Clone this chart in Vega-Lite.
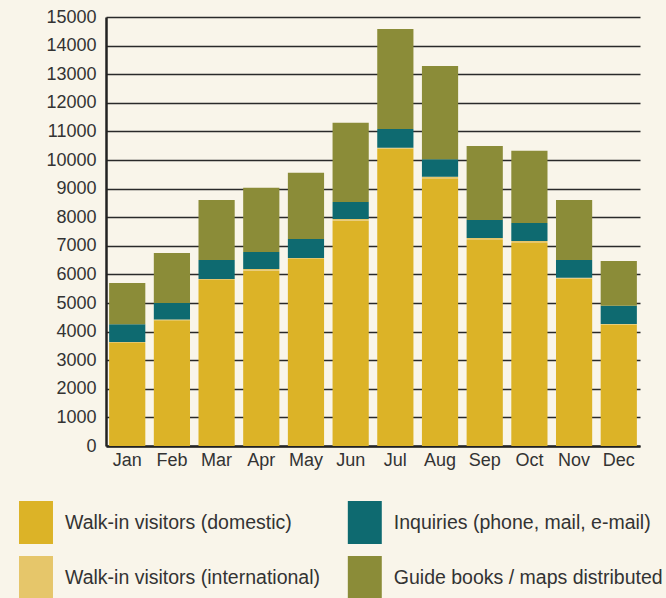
{
  "$schema": "https://vega.github.io/schema/vega-lite/v6.json",
  "width": 534,
  "height": 429,
  "autosize": {"type": "none"},
  "padding": {"left": 106, "top": 17, "right": 26, "bottom": 152},
  "background": "#f9f5ea",
  "config": {
    "view": {"stroke": null},
    "font": "Liberation Sans"
  },
  "data": {
    "values": [
      {"month": "Jan", "series": "Walk-in visitors (domestic)", "layer": 1, "value": 3600},
      {"month": "Jan", "series": "Walk-in visitors (international)", "layer": 2, "value": 40},
      {"month": "Jan", "series": "Inquiries (phone, mail, e-mail)", "layer": 3, "value": 620},
      {"month": "Jan", "series": "Guide books / maps distributed", "layer": 4, "value": 1440},
      {"month": "Feb", "series": "Walk-in visitors (domestic)", "layer": 1, "value": 4400},
      {"month": "Feb", "series": "Walk-in visitors (international)", "layer": 2, "value": 20},
      {"month": "Feb", "series": "Inquiries (phone, mail, e-mail)", "layer": 3, "value": 580},
      {"month": "Feb", "series": "Guide books / maps distributed", "layer": 4, "value": 1750},
      {"month": "Mar", "series": "Walk-in visitors (domestic)", "layer": 1, "value": 5800},
      {"month": "Mar", "series": "Walk-in visitors (international)", "layer": 2, "value": 40},
      {"month": "Mar", "series": "Inquiries (phone, mail, e-mail)", "layer": 3, "value": 660},
      {"month": "Mar", "series": "Guide books / maps distributed", "layer": 4, "value": 2100},
      {"month": "Apr", "series": "Walk-in visitors (domestic)", "layer": 1, "value": 6130},
      {"month": "Apr", "series": "Walk-in visitors (international)", "layer": 2, "value": 60},
      {"month": "Apr", "series": "Inquiries (phone, mail, e-mail)", "layer": 3, "value": 590},
      {"month": "Apr", "series": "Guide books / maps distributed", "layer": 4, "value": 2250},
      {"month": "May", "series": "Walk-in visitors (domestic)", "layer": 1, "value": 6540},
      {"month": "May", "series": "Walk-in visitors (international)", "layer": 2, "value": 30},
      {"month": "May", "series": "Inquiries (phone, mail, e-mail)", "layer": 3, "value": 665},
      {"month": "May", "series": "Guide books / maps distributed", "layer": 4, "value": 2315},
      {"month": "Jun", "series": "Walk-in visitors (domestic)", "layer": 1, "value": 7880},
      {"month": "Jun", "series": "Walk-in visitors (international)", "layer": 2, "value": 60},
      {"month": "Jun", "series": "Inquiries (phone, mail, e-mail)", "layer": 3, "value": 590},
      {"month": "Jun", "series": "Guide books / maps distributed", "layer": 4, "value": 2770},
      {"month": "Jul", "series": "Walk-in visitors (domestic)", "layer": 1, "value": 10400},
      {"month": "Jul", "series": "Walk-in visitors (international)", "layer": 2, "value": 30},
      {"month": "Jul", "series": "Inquiries (phone, mail, e-mail)", "layer": 3, "value": 650},
      {"month": "Jul", "series": "Guide books / maps distributed", "layer": 4, "value": 3500},
      {"month": "Aug", "series": "Walk-in visitors (domestic)", "layer": 1, "value": 9340},
      {"month": "Aug", "series": "Walk-in visitors (international)", "layer": 2, "value": 70},
      {"month": "Aug", "series": "Inquiries (phone, mail, e-mail)", "layer": 3, "value": 620},
      {"month": "Aug", "series": "Guide books / maps distributed", "layer": 4, "value": 3260},
      {"month": "Sep", "series": "Walk-in visitors (domestic)", "layer": 1, "value": 7200},
      {"month": "Sep", "series": "Walk-in visitors (international)", "layer": 2, "value": 70},
      {"month": "Sep", "series": "Inquiries (phone, mail, e-mail)", "layer": 3, "value": 630},
      {"month": "Sep", "series": "Guide books / maps distributed", "layer": 4, "value": 2590},
      {"month": "Oct", "series": "Walk-in visitors (domestic)", "layer": 1, "value": 7100},
      {"month": "Oct", "series": "Walk-in visitors (international)", "layer": 2, "value": 70},
      {"month": "Oct", "series": "Inquiries (phone, mail, e-mail)", "layer": 3, "value": 630},
      {"month": "Oct", "series": "Guide books / maps distributed", "layer": 4, "value": 2520},
      {"month": "Nov", "series": "Walk-in visitors (domestic)", "layer": 1, "value": 5850},
      {"month": "Nov", "series": "Walk-in visitors (international)", "layer": 2, "value": 30},
      {"month": "Nov", "series": "Inquiries (phone, mail, e-mail)", "layer": 3, "value": 620},
      {"month": "Nov", "series": "Guide books / maps distributed", "layer": 4, "value": 2100},
      {"month": "Dec", "series": "Walk-in visitors (domestic)", "layer": 1, "value": 4250},
      {"month": "Dec", "series": "Walk-in visitors (international)", "layer": 2, "value": 20},
      {"month": "Dec", "series": "Inquiries (phone, mail, e-mail)", "layer": 3, "value": 630},
      {"month": "Dec", "series": "Guide books / maps distributed", "layer": 4, "value": 1570}
    ]
  },
  "mark": {"type": "bar"},
  "encoding": {
    "x": {
      "field": "month",
      "type": "nominal",
      "sort": ["Jan","Feb","Mar","Apr","May","Jun","Jul","Aug","Sep","Oct","Nov","Dec"],
      "scale": {"paddingInner": 0.19, "paddingOuter": 0.07},
      "axis": {
        "title": null,
        "labelAngle": 0,
        "labelFontSize": 18,
        "labelColor": "#333333",
        "labelPadding": 5,
        "ticks": false,
        "domainColor": "#222222",
        "domainWidth": 2.5
      }
    },
    "y": {
      "field": "value",
      "type": "quantitative",
      "stack": "zero",
      "scale": {"domain": [0, 15000], "nice": false},
      "axis": {
        "title": null,
        "values": [0,1000,2000,3000,4000,5000,6000,7000,8000,9000,10000,11000,12000,13000,14000,15000],
        "format": "d",
        "labelFontSize": 18,
        "labelColor": "#333333",
        "labelPadding": 10,
        "ticks": false,
        "grid": true,
        "gridColor": "#2a2a2a",
        "gridWidth": 1.5,
        "gridOpacity": 1,
        "domainColor": "#222222",
        "domainWidth": 2.5
      }
    },
    "color": {
      "field": "series",
      "type": "nominal",
      "scale": {
        "domain": ["Walk-in visitors (domestic)", "Walk-in visitors (international)", "Inquiries (phone, mail, e-mail)", "Guide books / maps distributed"],
        "range": ["#dcb327", "#e6c66a", "#0e6a70", "#8b8c38"]
      },
      "legend": {
        "title": null,
        "orient": "none",
        "legendX": -91.5,
        "legendY": 484,
        "columns": 2,
        "padding": 0,
        "symbolType": "M-0.79,-1L0.79,-1L0.79,1L-0.79,1Z",
        "symbolSize": 1849,
        "symbolStrokeWidth": 0,
        "symbolOpacity": 1,
        "labelFontSize": 19.5,
        "labelColor": "#333333",
        "labelOffset": 7.5,
        "labelLimit": 400,
        "columnPadding": 22.8,
        "rowPadding": 12
      }
    },
    "order": {"field": "layer", "type": "quantitative", "sort": "ascending"}
  }
}
